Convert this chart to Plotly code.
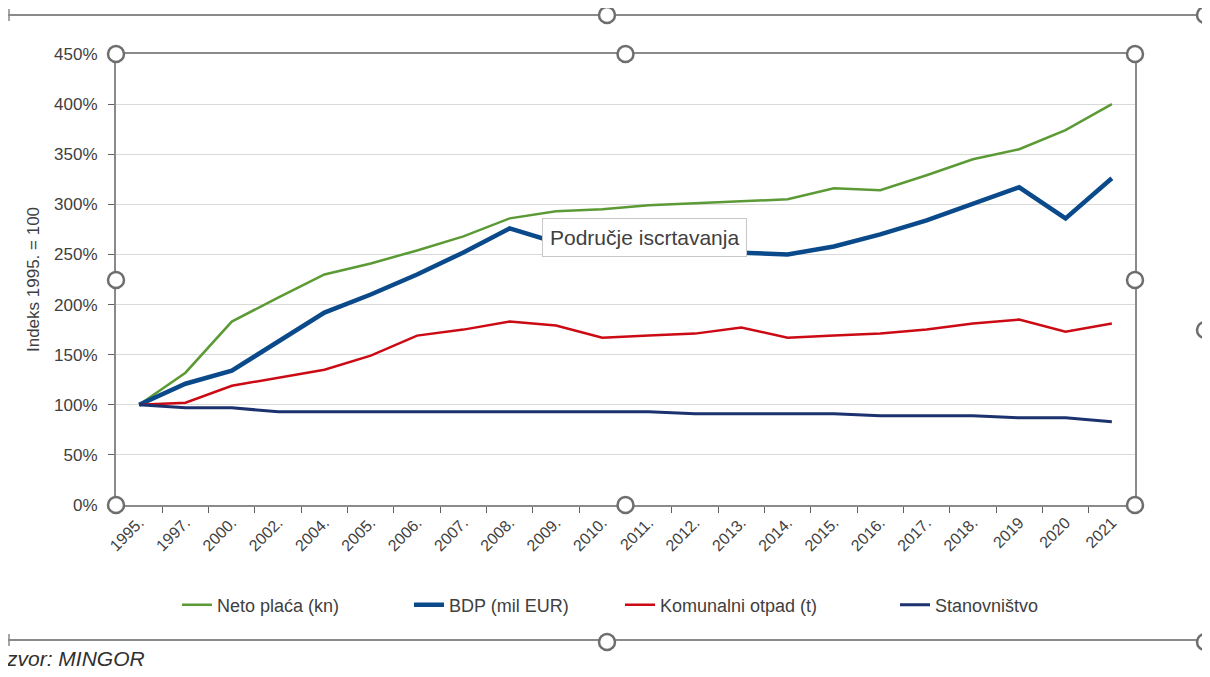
import plotly.graph_objects as go

years = ["1995.", "1997.", "2000.", "2002.", "2004.", "2005.", "2006.", "2007.", "2008.",
         "2009.", "2010.", "2011.", "2012.", "2013.", "2014.", "2015.", "2016.", "2017.",
         "2018.", "2019", "2020", "2021"]

neto_placa = [100, 132, 183, 207, 230, 241, 254, 268, 286, 293, 295, 299, 301, 303, 305,
              316, 314, 329, 345, 355, 374, 400]
bdp = [100, 121, 134, 163, 192, 210, 230, 252, 276, 262, 257, 255, 253, 252, 250,
       258, 270, 284, 300, 317, 286, 326]
otpad = [100, 102, 119, 127, 135, 149, 169, 175, 183, 179, 167, 169, 171, 177, 167,
         169, 171, 175, 181, 185, 173, 181]
stanovnistvo = [100, 97, 97, 93, 93, 93, 93, 93, 93, 93, 93, 93, 91, 91, 91,
                91, 89, 89, 89, 87, 87, 83]

y_ticks = [0, 50, 100, 150, 200, 250, 300, 350, 400, 450]
y_labels = [f"{v}%" for v in y_ticks]

# page offset caused by default body margin
OFF = 8
WF, HF = 1194, 661
L, R, T, B = 116, 1135, 54, 505   # plot area in page pixels
FONT = "Liberation Sans, Arial, sans-serif"
TXT = "#404040"


def px_x(p):
    return (p - L) / (R - L)


def px_y(p):
    return (B - p) / (B - T)


fig = go.Figure()
series = [
    ("Neto plaća (kn)", neto_placa, "#5b9a35", 2.5, 182),
    ("BDP (mil EUR)", bdp, "#0b4a8a", 4.5, 414),
    ("Komunalni otpad (t)", otpad, "#cc0a14", 2.5, 625),
    ("Stanovništvo", stanovnistvo, "#1c326e", 3, 900),
]
legend_layouts = {}
for i, (name, vals, col, w, lx) in enumerate(series):
    key = "legend" if i == 0 else f"legend{i + 1}"
    fig.add_trace(go.Scatter(x=years, y=vals, name=name, mode="lines", legend=key,
                             line=dict(color=col, width=w)))
    legend_layouts[key] = dict(orientation="h", x=px_x(lx - 5), y=px_y(605),
                               xanchor="left", yanchor="middle",
                               bgcolor="rgba(0,0,0,0)",
                               font=dict(family=FONT, size=18, color=TXT))

shapes = []
for yy in (15, 640):
    shapes.append(dict(type="line", xref="paper", yref="paper",
                       x0=px_x(8), x1=px_x(1210), y0=px_y(yy), y1=px_y(yy),
                       line=dict(color="#8a8a8a", width=2)))
    shapes.append(dict(type="line", xref="paper", yref="paper",
                       x0=px_x(9), x1=px_x(9), y0=px_y(yy - 6), y1=px_y(yy + 6),
                       line=dict(color="#8a8a8a", width=1.5)))
handles = [(L, T), ((L + R) / 2, T), (R, T), (L, 280), (R, 280), (L, B), ((L + R) / 2, B), (R, B),
           (607, 15), (1205, 15), (607, 642), (1205, 642), (1205, 330)]
r = 8
for hx, hy in handles:
    shapes.append(dict(type="circle", xref="paper", yref="paper",
                       x0=px_x(hx - r), x1=px_x(hx + r), y0=px_y(hy + r), y1=px_y(hy - r),
                       fillcolor="white", line=dict(color="#6e6e6e", width=2.5)))

fig.update_layout(
    width=WF, height=HF,
    margin=dict(l=L - OFF, r=WF - (R - OFF), t=T - OFF, b=HF - (B - OFF), pad=0),
    paper_bgcolor="white", plot_bgcolor="white",
    font=dict(family=FONT, size=16, color=TXT),
    showlegend=True,
    shapes=shapes,
    annotations=[
        dict(text="Područje iscrtavanja", xref="paper", yref="paper",
             x=px_x(644), y=px_y(237), showarrow=False,
             font=dict(family=FONT, size=21, color=TXT),
             bgcolor="white", bordercolor="#c8c8c8", borderwidth=1, borderpad=7),
        dict(text="<i>zvor: MINGOR</i>", xref="paper", yref="paper",
             x=px_x(4), y=px_y(658), xanchor="left", yanchor="middle", showarrow=False,
             font=dict(family=FONT, size=21, color="#303030")),
    ],
    **legend_layouts,
)

fig.update_xaxes(type="category", range=[-0.5, len(years) - 0.5], tickangle=-45,
                 tickson="boundaries", ticks="outside",
                 ticklen=6, tickcolor="#606060", showline=True, linecolor="#8a8a8a",
                 linewidth=2, mirror=True, showgrid=False,
                 tickfont=dict(family=FONT, size=16, color=TXT))
fig.update_yaxes(range=[0, 450], tickvals=y_ticks, ticktext=y_labels, ticks="outside",
                 ticklen=6, tickcolor="#606060", showline=True, linecolor="#8a8a8a",
                 linewidth=2, mirror=True, showgrid=True, gridcolor="#d9d9d9", gridwidth=1,
                 zeroline=False, ticklabelstandoff=7,
                 tickfont=dict(family=FONT, size=17, color=TXT),
                 title=dict(text="Indeks 1995. = 100", standoff=10,
                            font=dict(family=FONT, size=17, color=TXT)))

fig.write_html("out.html")
